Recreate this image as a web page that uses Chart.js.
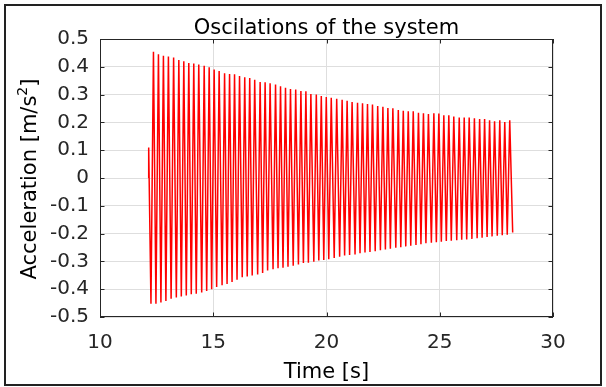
<!DOCTYPE html>
<html><head><meta charset="utf-8">
<script src="https://cdn.jsdelivr.net/npm/chart.js@4.4.0/dist/chart.umd.min.js"></script>
<style>html,body{margin:0;padding:0;background:#fff;overflow:hidden}canvas{display:block}</style>
</head><body>
<canvas id="c" width="606" height="387"></canvas>
<script>
const chartTitle = 'Oscilations of the system';
const xAxisTitle = 'Time [s]';
const yAxisTitleParts = ['Acceleration [m/s', '2', ']'];
const xTicks = [10, 15, 20, 25, 30];
const yTicks = [-0.5, -0.4, -0.3, -0.2, -0.1, 0, 0.1, 0.2, 0.3, 0.4, 0.5];

// signal start (small initial excursion)
const leadTime = [12.14, 12.15];
const leadAccel = [0, 0.11];

// minima, each one just before the matching maximum
const troughTime = [12.25, 12.47, 12.69, 12.91, 13.14, 13.37, 13.59, 13.81, 14.03, 14.25,
  14.49, 14.71, 14.93, 15.15, 15.39, 15.61, 15.83, 16.05, 16.28, 16.50,
  16.72, 16.96, 17.18, 17.40, 17.64, 17.86, 18.08, 18.30, 18.53, 18.76,
  18.98, 19.20, 19.44, 19.66, 19.88, 20.10, 20.34, 20.58, 20.80, 21.02,
  21.26, 21.48, 21.70, 21.92, 22.15, 22.38, 22.60, 22.82, 23.06, 23.28,
  23.50, 23.72, 23.95, 24.17, 24.39, 24.63, 24.85, 25.07, 25.29, 25.51,
  25.75, 25.97, 26.19, 26.42, 26.65, 26.87, 27.09, 27.31, 27.54, 27.76, 27.98];
const troughAccel = [-0.452, -0.452, -0.448, -0.442, -0.434, -0.430, -0.426, -0.423, -0.418, -0.416,
  -0.412, -0.406, -0.400, -0.392, -0.386, -0.381, -0.374, -0.366, -0.357, -0.354,
  -0.351, -0.347, -0.342, -0.333, -0.328, -0.325, -0.323, -0.319, -0.316, -0.311,
  -0.306, -0.305, -0.301, -0.297, -0.295, -0.292, -0.288, -0.283, -0.279, -0.277,
  -0.275, -0.271, -0.268, -0.266, -0.263, -0.260, -0.257, -0.254, -0.251, -0.249,
  -0.246, -0.244, -0.241, -0.238, -0.235, -0.233, -0.231, -0.229, -0.227, -0.226,
  -0.224, -0.222, -0.221, -0.219, -0.217, -0.215, -0.212, -0.210, -0.208, -0.206, -0.204];

// maxima
const peakTime = [12.36, 12.58, 12.80, 13.02, 13.25, 13.48, 13.70, 13.92, 14.14, 14.36,
  14.60, 14.82, 15.04, 15.26, 15.50, 15.72, 15.94, 16.16, 16.39, 16.61,
  16.83, 17.07, 17.29, 17.51, 17.75, 17.97, 18.19, 18.41, 18.64, 18.87,
  19.09, 19.31, 19.55, 19.77, 19.99, 20.21, 20.45, 20.69, 20.91, 21.13,
  21.37, 21.59, 21.81, 22.03, 22.26, 22.49, 22.71, 22.93, 23.17, 23.39,
  23.61, 23.83, 24.06, 24.28, 24.50, 24.74, 24.96, 25.18, 25.40, 25.62,
  25.86, 26.08, 26.30, 26.53, 26.76, 26.98, 27.20, 27.42, 27.65, 27.87, 28.09];
const peakAccel = [0.454, 0.445, 0.440, 0.437, 0.433, 0.424, 0.420, 0.414, 0.412, 0.408,
  0.404, 0.398, 0.390, 0.385, 0.377, 0.374, 0.373, 0.367, 0.362, 0.360,
  0.353, 0.345, 0.344, 0.341, 0.336, 0.330, 0.325, 0.320, 0.318, 0.313,
  0.312, 0.302, 0.300, 0.295, 0.291, 0.289, 0.285, 0.281, 0.278, 0.273,
  0.271, 0.269, 0.266, 0.264, 0.259, 0.256, 0.252, 0.251, 0.245, 0.242,
  0.240, 0.240, 0.235, 0.233, 0.230, 0.233, 0.232, 0.226, 0.226, 0.221,
  0.218, 0.218, 0.218, 0.215, 0.212, 0.212, 0.208, 0.204, 0.208, 0.201, 0.208];

// signal end
const tailTime = [28.22];
const tailAccel = [-0.196];

const points = [];
leadTime.forEach((t, i) => points.push({x: t, y: leadAccel[i]}));
peakTime.forEach((t, i) => {
  points.push({x: troughTime[i], y: troughAccel[i]});
  points.push({x: t, y: peakAccel[i]});
});
tailTime.forEach((t, i) => points.push({x: t, y: tailAccel[i]}));

const FONT = '"DejaVu Sans", "Liberation Sans", sans-serif';
const fmt = v => String(Math.round(v * 10) / 10);

const decor = {
  id: 'decor',
  afterDraw(chart) {
    const {ctx, chartArea: a, scales: {x, y}} = chart;
    ctx.save();
    // axes box
    ctx.strokeStyle = '#262626';
    ctx.lineWidth = 1;
    ctx.strokeRect(a.left + 0.5, a.top + 0.5, a.right - a.left - 1, a.bottom - a.top - 1);
    // inward tick marks
    ctx.beginPath();
    const tl = 4.5;
    xTicks.forEach(v => {
      const px = Math.round(x.getPixelForValue(v)) + 0.5;
      ctx.moveTo(px, a.bottom); ctx.lineTo(px, a.bottom - tl);
      ctx.moveTo(px, a.top); ctx.lineTo(px, a.top + tl);
    });
    yTicks.forEach(v => {
      const py = Math.round(y.getPixelForValue(v)) + 0.5;
      ctx.moveTo(a.left, py); ctx.lineTo(a.left + tl, py);
      ctx.moveTo(a.right, py); ctx.lineTo(a.right - tl, py);
    });
    ctx.stroke();
    // outer frame
    ctx.strokeStyle = '#222';
    ctx.lineWidth = 2;
    ctx.strokeRect(5, 5, 596, 380);
    // titles
    ctx.fillStyle = '#000';
    ctx.textBaseline = 'alphabetic';
    ctx.textAlign = 'center';
    ctx.font = '21px ' + FONT;
    const cx = (a.left + a.right) / 2;
    ctx.fillText(chartTitle, cx, 34);
    ctx.fillText(xAxisTitle, cx, 378);
    // y title with superscript
    ctx.translate(36, (a.top + a.bottom) / 2 + 1);
    ctx.rotate(-Math.PI / 2);
    ctx.textAlign = 'left';
    ctx.font = '21px ' + FONT;
    const w1 = ctx.measureText(yAxisTitleParts[0]).width;
    const w3 = ctx.measureText(yAxisTitleParts[2]).width;
    ctx.font = '14px ' + FONT;
    const w2 = ctx.measureText(yAxisTitleParts[1]).width;
    let sx = -(w1 + w2 + w3) / 2;
    ctx.font = '21px ' + FONT;
    ctx.fillText(yAxisTitleParts[0], sx, 0);
    ctx.font = '14px ' + FONT;
    ctx.fillText(yAxisTitleParts[1], sx + w1, -9);
    ctx.font = '21px ' + FONT;
    ctx.fillText(yAxisTitleParts[2], sx + w1 + w2, 0);
    ctx.restore();
  }
};

new Chart(document.getElementById('c'), {
  type: 'line',
  data: {
    datasets: [{
      data: points,
      borderColor: '#ff0000',
      borderWidth: 1.5,
      pointRadius: 0,
      tension: 0,
      fill: false
    }]
  },
  options: {
    responsive: false,
    animation: false,
    devicePixelRatio: 1,
    parsing: false,
    layout: {padding: {left: 0, right: 53, top: 39, bottom: 0}},
    plugins: {legend: {display: false}, tooltip: {enabled: false}, title: {display: false}},
    scales: {
      x: {
        type: 'linear', min: 10, max: 30,
        afterBuildTicks: s => { s.ticks = xTicks.map(v => ({value: v})); },
        afterFit: s => { s.height = 70; },
        grid: {color: '#dedede', lineWidth: 1, drawTicks: false},
        border: {display: false},
        ticks: {padding: 14, color: '#262626', font: {family: FONT, size: 20}, maxRotation: 0, autoSkip: false, callback: fmt}
      },
      y: {
        type: 'linear', min: -0.5, max: 0.5,
        afterBuildTicks: s => { s.ticks = yTicks.map(v => ({value: v})); },
        afterFit: s => { s.width = 100; },
        grid: {color: '#dedede', lineWidth: 1, drawTicks: false},
        border: {display: false},
        ticks: {padding: 11, color: '#262626', font: {family: FONT, size: 20}, autoSkip: false, callback: fmt}
      }
    }
  },
  plugins: [decor]
});
</script>
</body></html>
